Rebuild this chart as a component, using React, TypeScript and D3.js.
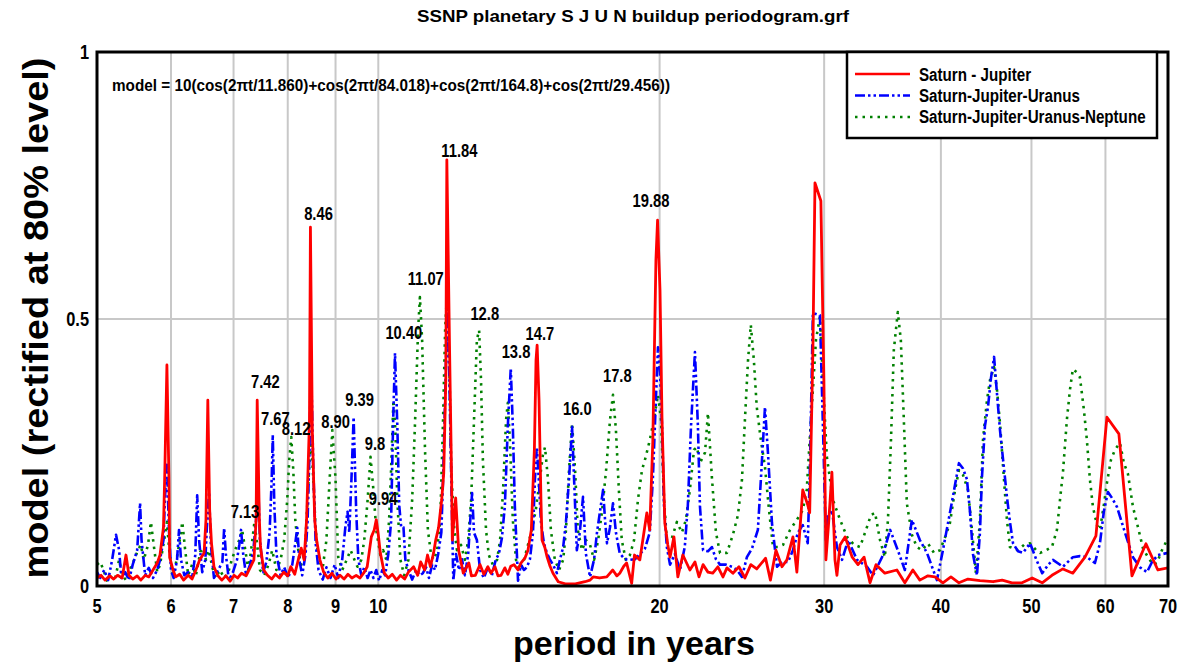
import React from 'react';
import * as d3 from 'd3';

type Pt = [number, number];

const xTickValues = [5, 6, 7, 8, 9, 10, 20, 30, 40, 50, 60, 70];
const xGridValues = [6, 7, 8, 9, 10, 20, 30, 40, 50, 60];
const yTickValues = [0, 0.5, 1];
const yTickLabels = ['0', '0.5', '1'];
const yGridValues = [0.5];

const seriesNames = ['Saturn - Jupiter', 'Saturn-Jupiter-Uranus', 'Saturn-Jupiter-Uranus-Neptune'];

// Saturn - Jupiter (period in years, model value)
const satJup: Pt[] = [[5.00,0.015],[5.05,0.02],[5.10,0.011],[5.16,0.019],[5.21,0.013],[5.26,0.02],[5.32,0.015],[5.37,0.058],[5.41,0.02],[5.46,0.013],[5.52,0.019],[5.57,0.011],[5.63,0.02],[5.68,0.017],[5.74,0.03],[5.80,0.043],[5.84,0.058],[5.89,0.11],[5.91,0.217],[5.94,0.414],[5.97,0.2],[5.98,0.054],[6.03,0.03],[6.07,0.017],[6.13,0.022],[6.19,0.011],[6.26,0.02],[6.32,0.013],[6.38,0.03],[6.44,0.049],[6.51,0.062],[6.54,0.124],[6.57,0.348],[6.60,0.142],[6.63,0.08],[6.67,0.036],[6.73,0.02],[6.80,0.011],[6.87,0.019],[6.94,0.009],[7.01,0.02],[7.07,0.015],[7.14,0.024],[7.22,0.019],[7.29,0.034],[7.36,0.049],[7.40,0.124],[7.42,0.348],[7.46,0.124],[7.48,0.073],[7.54,0.03],[7.61,0.02],[7.69,0.013],[7.76,0.022],[7.84,0.015],[7.92,0.026],[8.00,0.019],[8.06,0.036],[8.14,0.022],[8.21,0.049],[8.27,0.071],[8.33,0.049],[8.38,0.124],[8.44,0.31],[8.46,0.672],[8.50,0.29],[8.55,0.124],[8.59,0.086],[8.66,0.049],[8.74,0.026],[8.83,0.015],[8.92,0.024],[9.01,0.013],[9.10,0.02],[9.19,0.013],[9.28,0.022],[9.37,0.015],[9.47,0.02],[9.56,0.015],[9.66,0.026],[9.73,0.036],[9.83,0.092],[9.90,0.105],[9.95,0.124],[10.0,0.096],[10.05,0.062],[10.15,0.024],[10.25,0.015],[10.35,0.022],[10.46,0.011],[10.56,0.02],[10.67,0.013],[10.77,0.026],[10.91,0.036],[11.02,0.02],[11.10,0.045],[11.21,0.03],[11.29,0.058],[11.37,0.036],[11.46,0.062],[11.52,0.086],[11.60,0.109],[11.69,0.161],[11.75,0.212],[11.81,0.386],[11.84,0.798],[11.92,0.442],[11.98,0.199],[12.00,0.086],[12.10,0.165],[12.19,0.067],[12.33,0.024],[12.50,0.043],[12.58,0.019],[12.70,0.02],[12.85,0.04],[12.97,0.022],[13.10,0.036],[13.20,0.024],[13.33,0.036],[13.43,0.019],[13.53,0.02],[13.66,0.034],[13.76,0.022],[13.86,0.037],[13.97,0.04],[14.11,0.03],[14.21,0.043],[14.35,0.052],[14.46,0.067],[14.58,0.105],[14.69,0.255],[14.75,0.423],[14.79,0.451],[14.86,0.348],[14.93,0.161],[14.97,0.086],[15.08,0.071],[15.16,0.054],[15.27,0.037],[15.38,0.024],[15.58,0.008],[15.85,0.004],[16.25,0.004],[16.64,0.008],[16.85,0.011],[16.98,0.017],[17.25,0.015],[17.56,0.017],[17.82,0.03],[18.00,0.019],[18.13,0.024],[18.31,0.037],[18.44,0.043],[18.67,0.005],[18.80,0.058],[19.05,0.049],[19.19,0.086],[19.38,0.137],[19.52,0.105],[19.67,0.273],[19.82,0.61],[19.90,0.685],[20.02,0.554],[20.12,0.311],[20.26,0.118],[20.41,0.077],[20.52,0.054],[20.72,0.092],[20.92,0.017],[21.18,0.058],[21.55,0.03],[21.82,0.045],[22.04,0.017],[22.26,0.04],[22.53,0.026],[22.80,0.024],[23.09,0.036],[23.38,0.017],[23.61,0.034],[23.96,0.024],[24.32,0.036],[24.68,0.015],[25.04,0.04],[25.41,0.032],[25.97,0.052],[26.28,0.011],[26.64,0.067],[27.04,0.036],[27.37,0.049],[27.78,0.092],[28.05,0.026],[28.46,0.18],[28.81,0.152],[28.95,0.137],[29.18,0.442],[29.33,0.755],[29.76,0.721],[29.98,0.386],[30.13,0.049],[30.35,0.124],[30.58,0.213],[30.81,0.049],[30.96,0.02],[31.20,0.077],[31.59,0.092],[32.15,0.054],[32.61,0.04],[33.10,0.054],[33.59,0.006],[34.09,0.04],[34.84,0.024],[35.89,0.03],[36.60,0.006],[37.33,0.03],[37.98,0.011],[38.74,0.019],[39.42,0.017],[40.20,0.006],[41.00,0.017],[41.82,0.006],[42.76,0.013],[44.04,0.01],[45.49,0.008],[46.52,0.011],[47.66,0.006],[48.85,0.006],[50.09,0.015],[51.34,0.006],[52.59,0.02],[54.03,0.032],[55.37,0.024],[57.05,0.054],[58.61,0.094],[60.22,0.316],[62.02,0.285],[64.05,0.019],[66.30,0.079],[68.27,0.03],[70.0,0.034]];

// Saturn-Jupiter-Uranus
const satJupUra: Pt[] = [[5.00,0.026],[5.04,0.015],[5.09,0.03],[5.14,0.011],[5.19,0.049],[5.24,0.096],[5.28,0.067],[5.31,0.015],[5.36,0.026],[5.41,0.011],[5.46,0.04],[5.52,0.067],[5.56,0.155],[5.58,0.086],[5.63,0.02],[5.68,0.034],[5.74,0.015],[5.80,0.03],[5.84,0.049],[5.89,0.086],[5.91,0.161],[5.94,0.23],[5.97,0.105],[6.00,0.03],[6.04,0.015],[6.09,0.049],[6.12,0.105],[6.15,0.049],[6.20,0.02],[6.26,0.026],[6.32,0.015],[6.37,0.058],[6.40,0.17],[6.43,0.086],[6.48,0.026],[6.53,0.049],[6.56,0.124],[6.59,0.176],[6.62,0.077],[6.67,0.015],[6.74,0.03],[6.81,0.045],[6.84,0.109],[6.87,0.058],[6.92,0.011],[6.99,0.026],[7.06,0.049],[7.10,0.077],[7.13,0.105],[7.17,0.058],[7.22,0.02],[7.29,0.04],[7.35,0.067],[7.40,0.124],[7.44,0.185],[7.47,0.086],[7.53,0.026],[7.59,0.045],[7.65,0.1],[7.69,0.2],[7.71,0.283],[7.74,0.15],[7.78,0.06],[7.86,0.02],[7.93,0.035],[8.01,0.015],[8.09,0.04],[8.15,0.08],[8.19,0.109],[8.23,0.05],[8.29,0.02],[8.36,0.06],[8.40,0.12],[8.44,0.25],[8.47,0.43],[8.52,0.22],[8.57,0.08],[8.63,0.03],[8.72,0.012],[8.80,0.035],[8.89,0.015],[8.98,0.04],[9.06,0.015],[9.15,0.05],[9.22,0.11],[9.27,0.139],[9.31,0.1],[9.36,0.2],[9.41,0.316],[9.47,0.14],[9.52,0.05],[9.59,0.02],[9.66,0.035],[9.74,0.015],[9.81,0.03],[9.88,0.015],[9.95,0.03],[10.02,0.01],[10.10,0.03],[10.17,0.02],[10.25,0.06],[10.32,0.12],[10.37,0.3],[10.42,0.436],[10.48,0.3],[10.53,0.15],[10.58,0.11],[10.64,0.11],[10.69,0.049],[10.77,0.03],[10.87,0.012],[10.98,0.03],[11.08,0.02],[11.16,0.024],[11.25,0.035],[11.33,0.015],[11.42,0.04],[11.50,0.03],[11.59,0.06],[11.68,0.1],[11.73,0.2],[11.79,0.35],[11.85,0.52],[11.91,0.4],[11.97,0.2],[12.03,0.01],[12.11,0.06],[12.20,0.03],[12.29,0.05],[12.38,0.02],[12.48,0.06],[12.54,0.12],[12.60,0.174],[12.66,0.1],[12.75,0.086],[12.85,0.03],[12.97,0.015],[13.10,0.035],[13.23,0.02],[13.36,0.05],[13.46,0.06],[13.56,0.09],[13.66,0.15],[13.76,0.3],[13.86,0.408],[13.93,0.3],[14.00,0.15],[14.11,0.01],[14.21,0.04],[14.32,0.03],[14.42,0.035],[14.53,0.05],[14.64,0.1],[14.71,0.2],[14.78,0.26],[14.85,0.2],[14.93,0.12],[15.04,0.08],[15.15,0.062],[15.26,0.05],[15.38,0.04],[15.53,0.024],[15.65,0.05],[15.77,0.073],[15.88,0.12],[16.00,0.2],[16.12,0.298],[16.20,0.2],[16.31,0.067],[16.43,0.1],[16.56,0.167],[16.68,0.06],[16.85,0.017],[17.02,0.05],[17.14,0.1],[17.27,0.14],[17.40,0.18],[17.49,0.12],[17.57,0.08],[17.70,0.11],[17.83,0.155],[17.96,0.1],[18.13,0.061],[18.36,0.05],[18.59,0.049],[18.82,0.05],[19.05,0.06],[19.29,0.07],[19.52,0.1],[19.67,0.2],[19.82,0.35],[19.92,0.447],[20.02,0.4],[20.12,0.3],[20.22,0.15],[20.36,0.073],[20.52,0.04],[20.77,0.06],[21.03,0.03],[21.28,0.073],[21.44,0.15],[21.61,0.3],[21.82,0.438],[21.98,0.3],[22.09,0.15],[22.26,0.067],[22.53,0.065],[22.75,0.073],[22.98,0.05],[23.21,0.04],[23.56,0.04],[23.91,0.036],[24.20,0.03],[24.50,0.017],[24.80,0.054],[25.11,0.07],[25.48,0.105],[25.67,0.2],[25.93,0.335],[26.12,0.25],[26.38,0.118],[26.71,0.036],[27.04,0.045],[27.44,0.045],[27.78,0.067],[28.12,0.1],[28.46,0.114],[28.81,0.08],[28.95,0.2],[29.18,0.511],[29.69,0.507],[29.91,0.3],[30.13,0.086],[30.27,0.13],[30.58,0.142],[30.96,0.073],[31.35,0.049],[31.83,0.086],[32.53,0.049],[33.34,0.036],[33.84,0.02],[34.60,0.054],[35.30,0.105],[35.97,0.067],[36.60,0.03],[37.24,0.124],[37.98,0.086],[38.65,0.062],[39.61,0.011],[40.20,0.067],[41.00,0.147],[41.82,0.23],[42.24,0.22],[42.65,0.2],[42.97,0.14],[43.29,0.06],[43.72,0.02],[44.04,0.1],[44.26,0.204],[44.59,0.3],[44.92,0.335],[45.26,0.39],[45.60,0.429],[45.93,0.36],[46.27,0.292],[46.73,0.22],[47.07,0.167],[47.42,0.12],[47.78,0.08],[48.37,0.065],[48.97,0.062],[49.83,0.08],[50.59,0.05],[51.34,0.024],[52.12,0.04],[52.72,0.049],[54.03,0.036],[55.37,0.054],[56.34,0.056],[57.32,0.054],[58.47,0.043],[59.19,0.08],[59.77,0.14],[60.37,0.176],[60.97,0.165],[61.73,0.148],[62.96,0.1],[64.21,0.054],[65.33,0.035],[66.47,0.026],[67.30,0.045],[68.27,0.058],[70.0,0.062]];

// Saturn-Jupiter-Uranus-Neptune
const satJupUraNep: Pt[] = [[5.00,0.04],[5.04,0.045],[5.08,0.03],[5.13,0.008],[5.18,0.02],[5.23,0.015],[5.28,0.049],[5.32,0.02],[5.37,0.011],[5.42,0.03],[5.48,0.049],[5.53,0.067],[5.57,0.077],[5.61,0.049],[5.67,0.077],[5.71,0.12],[5.75,0.077],[5.80,0.026],[5.84,0.04],[5.90,0.086],[5.94,0.12],[5.98,0.058],[6.03,0.02],[6.07,0.04],[6.12,0.077],[6.17,0.12],[6.21,0.071],[6.26,0.02],[6.32,0.04],[6.38,0.02],[6.45,0.064],[6.49,0.071],[6.54,0.049],[6.59,0.067],[6.64,0.036],[6.70,0.015],[6.77,0.03],[6.84,0.015],[6.91,0.026],[6.97,0.049],[7.04,0.071],[7.10,0.086],[7.15,0.105],[7.20,0.071],[7.26,0.03],[7.31,0.067],[7.37,0.12],[7.42,0.077],[7.47,0.03],[7.55,0.02],[7.63,0.04],[7.70,0.067],[7.78,0.03],[7.86,0.049],[7.93,0.086],[7.99,0.161],[8.03,0.236],[8.07,0.279],[8.11,0.217],[8.15,0.124],[8.21,0.067],[8.27,0.04],[8.34,0.054],[8.40,0.161],[8.44,0.236],[8.48,0.264],[8.52,0.2],[8.57,0.105],[8.63,0.049],[8.72,0.034],[8.80,0.086],[8.87,0.2],[8.93,0.292],[9.00,0.2],[9.06,0.054],[9.15,0.03],[9.25,0.049],[9.34,0.067],[9.43,0.049],[9.50,0.036],[9.59,0.049],[9.66,0.086],[9.74,0.161],[9.81,0.242],[9.88,0.18],[9.95,0.105],[10.05,0.058],[10.12,0.067],[10.20,0.049],[10.27,0.124],[10.32,0.217],[10.38,0.348],[10.43,0.292],[10.48,0.161],[10.56,0.049],[10.66,0.02],[10.77,0.049],[10.87,0.161],[10.95,0.311],[11.03,0.479],[11.08,0.541],[11.14,0.461],[11.22,0.255],[11.30,0.105],[11.39,0.058],[11.47,0.049],[11.56,0.067],[11.65,0.124],[11.73,0.311],[11.79,0.479],[11.85,0.554],[11.91,0.423],[11.97,0.217],[12.06,0.105],[12.14,0.067],[12.26,0.077],[12.38,0.049],[12.48,0.086],[12.57,0.161],[12.66,0.311],[12.75,0.461],[12.82,0.479],[12.88,0.386],[12.94,0.236],[13.04,0.105],[13.13,0.058],[13.26,0.04],[13.40,0.049],[13.50,0.086],[13.60,0.18],[13.70,0.311],[13.76,0.343],[13.83,0.273],[13.93,0.124],[14.04,0.049],[14.18,0.03],[14.32,0.049],[14.46,0.077],[14.60,0.105],[14.74,0.142],[14.89,0.2],[15.00,0.245],[15.08,0.26],[15.19,0.2],[15.30,0.105],[15.45,0.049],[15.61,0.03],[15.77,0.049],[15.88,0.105],[16.00,0.217],[16.12,0.305],[16.24,0.217],[16.35,0.105],[16.52,0.067],[16.68,0.086],[16.85,0.077],[17.02,0.049],[17.19,0.086],[17.36,0.142],[17.53,0.217],[17.70,0.311],[17.83,0.358],[17.96,0.292],[18.09,0.18],[18.22,0.086],[18.40,0.049],[18.59,0.058],[18.78,0.086],[18.96,0.161],[19.15,0.217],[19.33,0.242],[19.52,0.273],[19.72,0.311],[19.92,0.358],[20.07,0.311],[20.22,0.161],[20.36,0.086],[20.62,0.09],[20.87,0.12],[21.13,0.1],[21.34,0.124],[21.55,0.18],[21.77,0.255],[21.93,0.26],[22.09,0.23],[22.37,0.25],[22.53,0.324],[22.75,0.204],[22.98,0.1],[23.21,0.062],[23.61,0.062],[23.96,0.096],[24.26,0.133],[24.50,0.199],[24.68,0.311],[24.87,0.423],[25.04,0.489],[25.23,0.423],[25.41,0.335],[25.67,0.273],[25.93,0.223],[26.19,0.142],[26.45,0.073],[26.77,0.073],[27.11,0.077],[27.58,0.105],[28.05,0.124],[28.46,0.142],[28.74,0.18],[28.95,0.273],[29.18,0.367],[29.40,0.461],[29.69,0.504],[29.91,0.386],[30.20,0.242],[30.66,0.161],[31.20,0.124],[31.74,0.092],[32.30,0.077],[32.77,0.073],[33.26,0.105],[33.67,0.133],[34.01,0.137],[34.43,0.086],[34.84,0.054],[35.11,0.124],[35.37,0.273],[35.62,0.442],[35.97,0.513],[36.24,0.461],[36.51,0.311],[36.78,0.155],[37.24,0.096],[37.70,0.073],[38.17,0.067],[38.74,0.08],[39.32,0.062],[39.91,0.067],[40.51,0.096],[40.90,0.118],[41.42,0.18],[41.82,0.217],[42.24,0.208],[42.76,0.18],[43.18,0.105],[43.61,0.024],[44.04,0.124],[44.37,0.273],[44.81,0.348],[45.15,0.386],[45.60,0.41],[45.93,0.367],[46.27,0.305],[46.73,0.199],[47.07,0.124],[47.42,0.073],[48.37,0.067],[49.09,0.077],[49.83,0.08],[50.59,0.067],[51.09,0.062],[51.86,0.067],[52.59,0.073],[53.24,0.105],[53.64,0.161],[54.03,0.212],[54.56,0.311],[54.97,0.367],[55.37,0.406],[55.92,0.4],[56.34,0.391],[56.90,0.33],[57.32,0.273],[57.75,0.199],[58.18,0.148],[58.76,0.114],[59.19,0.105],[59.77,0.152],[60.22,0.193],[60.82,0.236],[61.42,0.255],[62.18,0.268],[62.80,0.23],[63.42,0.21],[64.21,0.148],[65.01,0.11],[65.83,0.07],[66.63,0.054],[67.47,0.04],[68.11,0.043],[68.96,0.067],[70.0,0.09]];

// Peak annotations: label text, anchor period, anchor value (text baseline centre)
const peakLabels: { text: string; period: number; value: number }[] = [
  { text: '11.84', period: 12.21, value: 0.803 },
  { text: '8.46', period: 8.63, value: 0.685 },
  { text: '19.88', period: 19.58, value: 0.71 },
  { text: '11.07', period: 11.24, value: 0.564 },
  { text: '10.40', period: 10.65, value: 0.4625 },
  { text: '12.8', period: 13.0, value: 0.498 },
  { text: '13.8', period: 14.04, value: 0.427 },
  { text: '14.7', period: 14.89, value: 0.461 },
  { text: '16.0', period: 16.33, value: 0.32 },
  { text: '17.8', period: 18.02, value: 0.382 },
  { text: '7.42', period: 7.57, value: 0.371 },
  { text: '7.67', period: 7.76, value: 0.301 },
  { text: '8.12', period: 8.165, value: 0.283 },
  { text: '8.90', period: 9.0, value: 0.296 },
  { text: '9.39', period: 9.55, value: 0.337 },
  { text: '9.8', period: 9.92, value: 0.255 },
  { text: '9.94', period: 10.12, value: 0.152 },
  { text: '7.13', period: 7.2, value: 0.127 },
];

const SANS = "'Liberation Sans',Arial,Helvetica,sans-serif";

// Bold condensed text (Arial Narrow look) made by squeezing Liberation Sans Bold
function NText(props: { x: number; y: number; anchor?: 'start' | 'middle' | 'end'; size?: number; children: React.ReactNode }) {
  const { x, y, anchor = 'start', size = 18, children } = props;
  return (
    <text transform={`translate(${x},${y}) scale(0.82,1)`} textAnchor={anchor} fontFamily={SANS} fontWeight="bold" fontSize={size}>
      {children}
    </text>
  );
}

export default function App() {
  const left = 97, right = 1168, top = 52, bottom = 586;
  const x = d3.scaleLog().domain([5, 70]).range([left, right]);
  const y = d3.scaleLinear().domain([0, 1]).range([bottom, top]);
  const line = d3.line<Pt>().x(d => x(d[0])).y(d => y(d[1]));

  const styles = [
    { color: '#ff0000', dash: undefined as string | undefined, width: 2.8 },
    { color: '#0000ff', dash: '10,3,2.5,3,2.5,3', width: 2.6 },
    { color: '#008000', dash: '2.5,5', width: 2.6 },
  ];
  const data = [satJup, satJupUra, satJupUraNep];

  return (
    <svg width={1182} height={663} style={{ position: 'absolute', left: 0, top: 0, background: '#fff' }}>
      <defs>
        <clipPath id="plotClip">
          <rect x={left} y={top} width={right - left} height={bottom - top} />
        </clipPath>
      </defs>
      <rect x={0} y={0} width={1182} height={663} fill="#fff" />
      <text x={633} y={22} textAnchor="middle" fontFamily={SANS} fontWeight="bold" fontSize={17}
        textLength={432} lengthAdjust="spacingAndGlyphs">
        SSNP planetary S J U N buildup periodogram.grf
      </text>
      {/* grid */}
      {xGridValues.map(v => (
        <line key={'gx' + v} x1={x(v)} x2={x(v)} y1={top} y2={bottom} stroke="#c8c8c8" strokeWidth={2} />
      ))}
      {yGridValues.map(v => (
        <line key={'gy' + v} x1={left} x2={right} y1={y(v)} y2={y(v)} stroke="#c8c8c8" strokeWidth={2} />
      ))}
      {/* series: green, blue, red on top */}
      <g clipPath="url(#plotClip)">
        {[2, 1, 0].map(i => (
          <path key={i} d={line(data[i]) || ''} fill="none" stroke={styles[i].color}
            strokeWidth={styles[i].width} strokeDasharray={styles[i].dash} strokeLinejoin="round" />
        ))}
      </g>
      {/* frame */}
      <rect x={left} y={top} width={right - left} height={bottom - top} fill="none" stroke="#000" strokeWidth={3} />
      {/* model text */}
      <text x={112} y={91} fontFamily={SANS} fontWeight="bold" fontSize={17}
        textLength={558} lengthAdjust="spacingAndGlyphs">
        model = 10(cos(2πt/11.860)+cos(2πt/84.018)+cos(2πt/164.8)+cos(2πt/29.456))
      </text>
      {/* peak labels */}
      {peakLabels.map(l => (
        <NText key={l.text} x={x(l.period)} y={y(l.value)} anchor="middle">{l.text}</NText>
      ))}
      {/* legend */}
      <rect x={847} y={52} width={310} height={86} fill="#fff" stroke="#000" strokeWidth={2.5} />
      {seriesNames.map((name, i) => (
        <g key={name}>
          <line x1={855} x2={910} y1={74 + i * 21.5} y2={74 + i * 21.5} stroke={styles[i].color} strokeWidth={2.6} strokeDasharray={styles[i].dash} />
          <NText x={919} y={81 + i * 21} size={18.5}>{name}</NText>
        </g>
      ))}
      {/* x ticks */}
      {xTickValues.map(v => (
        <NText key={'xt' + v} x={x(v)} y={613} anchor="middle" size={20}>{String(v)}</NText>
      ))}
      {/* y ticks */}
      {yTickValues.map((v, i) => (
        <NText key={'yt' + v} x={89} y={y(v) + 7} anchor="end" size={20}>{yTickLabels[i]}</NText>
      ))}
      {/* axis titles */}
      <text x={634} y={655} textAnchor="middle" fontFamily={SANS} fontWeight="bold" fontSize={34}>period in years</text>
      <text transform="translate(48,318) rotate(-90)" textAnchor="middle" fontFamily={SANS} fontWeight="bold" fontSize={35}
        textLength={521} lengthAdjust="spacingAndGlyphs">
        model (rectified at 80% level)
      </text>
    </svg>
  );
}
